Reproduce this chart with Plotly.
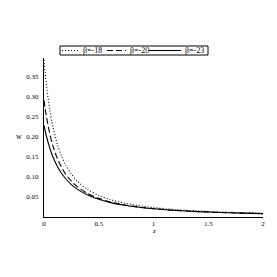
import plotly.graph_objects as go

z = [0, 0.02, 0.05, 0.08, 0.12, 0.16, 0.2, 0.25, 0.3, 0.4, 0.5, 0.6, 0.75, 0.9, 1.0, 1.2, 1.4, 1.6, 1.8, 2.0]
w_b18 = [0.39, 0.3335, 0.2709, 0.2257, 0.1823, 0.1513, 0.1282, 0.1066, 0.0904, 0.0681, 0.0537, 0.0437, 0.0336, 0.0269, 0.0235, 0.0186, 0.0152, 0.0127, 0.0108, 0.0094]
w_b20 = [0.29, 0.2527, 0.2100, 0.1781, 0.1466, 0.1234, 0.1057, 0.0889, 0.0761, 0.0581, 0.0463, 0.0379, 0.0294, 0.0236, 0.0208, 0.0165, 0.0135, 0.0113, 0.0097, 0.0084]
w_b23 = [0.228, 0.2031, 0.1734, 0.1503, 0.1266, 0.1086, 0.0944, 0.0806, 0.0699, 0.0544, 0.0439, 0.0364, 0.0285, 0.0231, 0.0204, 0.0163, 0.0134, 0.0113, 0.0097, 0.0084]
names = ["β=-18", "β=-20", "β=-23"]
dashes = ["1px,2px", "6px,3px", "solid"]

x_ticks = [0, 0.5, 1, 1.5, 2]
x_labels = ["0", "0.5", "1", "1.5", "2"]
y_ticks = [0.05, 0.10, 0.15, 0.20, 0.25, 0.30, 0.35]
y_labels = ["0.05", "0.10", "0.15", "0.20", "0.25", "0.30", "0.35"]

FONT = "Liberation Serif"
OFF = 8  # page body margin
W = H = 269
L, R, T, B = 36, 14, 50, 60
PW, PH = W - L - R, H - T - B

def px(xp):
    return (xp - OFF - L) / PW

def py(yp):
    return (H - B - (yp - OFF)) / PH

fig = go.Figure()
for ys, nm, ds in zip([w_b18, w_b20, w_b23], names, dashes):
    fig.add_trace(go.Scatter(x=z, y=ys, name=nm, mode="lines", showlegend=False,
                             line=dict(color="black", width=1.1, dash=ds, shape="spline", smoothing=0.8)))

# compact legend box as in the original
shapes = [dict(type="rect", xref="paper", yref="paper", x0=px(60), x1=px(208), y0=py(55), y1=py(46),
               line=dict(color="black", width=1), fillcolor="white")]
annotations = []
samples = [(62, 79, 81), (107, 126, 128), (149, 181, 183)]
ly = py(50.5)
for (s0, s1, tx), nm, ds in zip(samples, names, dashes):
    shapes.append(dict(type="line", xref="paper", yref="paper", x0=px(s0), x1=px(s1), y0=ly, y1=ly,
                       line=dict(color="black", width=1.1, dash=ds)))
    annotations.append(dict(text=nm, x=px(tx), y=ly, xref="paper", yref="paper", xanchor="left",
                            yanchor="middle", showarrow=False, font=dict(size=8, family=FONT, color="black")))

annotations.append(dict(text="w", x=px(18.5), y=0.2, xref="paper", yref="y", xanchor="center",
                        yanchor="middle", showarrow=False, font=dict(size=8, family=FONT, color="black")))
annotations.append(dict(text="z", x=1, y=py(231), xref="x", yref="paper", xanchor="center",
                        yanchor="middle", showarrow=False,
                        font=dict(size=7, family=FONT, color="black", style="italic")))

fig.update_layout(
    width=W, height=H,
    margin=dict(l=L, r=R, t=T, b=B),
    plot_bgcolor="white", paper_bgcolor="white",
    font=dict(family=FONT, size=7, color="black"),
    showlegend=False,
    xaxis=dict(range=[0, 2], tickvals=x_ticks, ticktext=x_labels, showgrid=False, zeroline=False,
               showline=True, linecolor="black", linewidth=1, ticks="",
               tickfont=dict(size=7, family=FONT, color="black"), ticklabelstandoff=0),
    yaxis=dict(range=[0, 0.395], tickvals=y_ticks, ticktext=y_labels, showgrid=False, zeroline=False,
               showline=True, linecolor="black", linewidth=1, ticks="",
               tickfont=dict(size=7, family=FONT, color="black"), ticklabelstandoff=3),
    shapes=shapes,
    annotations=annotations,
)
fig.write_html("out.html")
